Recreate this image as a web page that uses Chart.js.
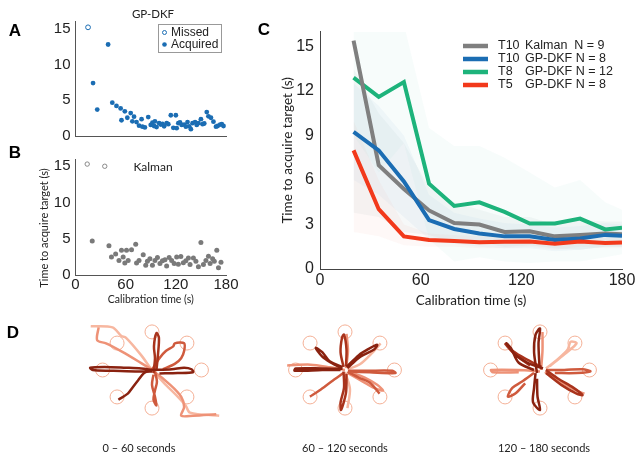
<!DOCTYPE html>
<html>
<head>
<meta charset="utf-8">
<script src="https://cdn.jsdelivr.net/npm/chart.js@4.4.1/dist/chart.umd.min.js"></script>
<style>
  body { margin: 0; background: #fff; width: 642px; height: 461px; position: relative; overflow: hidden; }
  canvas { position: absolute; }
  .t { position: absolute; transform: translate(-50%, -50%); white-space: nowrap; color: #222; font-family: Lato, sans-serif; }
  .pl { font: bold 17px "Liberation Sans", Arial, sans-serif; color: #000; }
</style>
</head>
<body>
<canvas id="chartA" width="240" height="150" style="left:0;top:0"></canvas>
<canvas id="chartB" width="240" height="164" style="left:0;top:145px"></canvas>
<canvas id="chartC" width="402" height="312" style="left:240px;top:0"></canvas>
<canvas id="chartD1" width="184" height="140" style="left:60px;top:300px"></canvas>
<canvas id="chartD2" width="184" height="140" style="left:253px;top:300px"></canvas>
<canvas id="chartD3" width="184" height="140" style="left:448px;top:300px"></canvas>

<div class="t pl" style="left:15px;top:31px">A</div>
<div class="t pl" style="left:15px;top:153px">B</div>
<div class="t pl" style="left:264px;top:30px">C</div>
<div class="t pl" style="left:13px;top:333px">D</div>
<div class="t" style="left:153px;top:13px;font-size:11.5px">GP-DKF</div>
<div class="t" style="left:153px;top:166px;font-size:12px">Kalman</div>
<div class="t" style="left:43px;top:228px;font-size:11px;transform:translate(-50%,-50%) rotate(-90deg)">Time to acquire target (s)</div>
<div class="t" style="left:139px;top:447px;font-size:11px">0 – 60 seconds</div>
<div class="t" style="left:345px;top:447px;font-size:11px">60 – 120 seconds</div>
<div class="t" style="left:544px;top:447px;font-size:11px">120 – 180 seconds</div>

<script>
// ---- panel A / B : single-trial acquisition times ----
const xTicksAB = [0, 60, 120, 180];
const yTicksAB = [0, 5, 10, 15];

const missedAx = [15];
const missedAy = [15.2];
const acqAx = [39, 21, 26, 44, 49, 54, 59, 66, 55, 62, 68, 70, 73, 76, 79, 80, 83, 87, 90, 92, 94, 95, 97, 100, 102, 104, 106, 109, 111, 114, 117, 120, 121, 123, 125, 127, 130, 132, 134, 136, 138, 140, 143, 145, 147, 150, 152, 154, 157, 159, 162, 165, 168, 170, 173, 175, 177];
const acqAy = [12.8, 7.4, 3.7, 4.66, 4.2, 3.85, 3.45, 3.2, 2.2, 2.55, 2.05, 2.7, 1.95, 1.45, 2.35, 1.3, 1.2, 2.65, 1.55, 1.85, 1.4, 2.05, 1.25, 1.8, 1.6, 1.7, 1.35, 1.8, 1.65, 2.9, 1.15, 2.9, 1.1, 1.8, 1.9, 1.55, 1.6, 1.3, 1.95, 1.35, 0.95, 1.8, 1.95, 1.55, 1.8, 2.35, 1.65, 1.75, 3.35, 2.75, 2.55, 2.0, 1.3, 1.4, 1.6, 1.65, 1.4];

const missedBx = [14, 35];
const missedBy = [15.3, 15.0];
const acqBx = [20, 40, 43, 48, 52, 55, 57, 59, 61, 63, 67, 72, 73, 76, 81, 84, 86, 89, 92, 95, 98, 101, 104, 107, 109, 112, 115, 118, 121, 123, 126, 129, 132, 135, 137, 141, 144, 147, 150, 153, 156, 159, 161, 164, 166, 169, 171, 174];
const acqBy = [4.7, 4.05, 2.5, 2.9, 2.0, 3.4, 2.5, 1.65, 3.4, 2.0, 3.5, 4.25, 1.65, 2.0, 2.8, 1.35, 1.9, 2.25, 1.35, 2.0, 2.4, 1.6, 1.95, 2.1, 1.25, 2.4, 2.0, 1.6, 2.5, 1.5, 2.55, 1.7, 1.95, 2.35, 1.45, 2.35, 1.9, 1.15, 4.5, 1.45, 2.0, 2.6, 1.6, 2.25, 1.9, 3.4, 1.0, 1.75];

// ---- panel C : mean time to target ----
const calTime = [20, 35, 50, 65, 80, 95, 110, 125, 140, 155, 170, 180];
const yTicksC = [0, 3, 6, 9, 12, 15];
const kalmanT10 = [15.4, 7.0, 5.4, 3.95, 3.1, 3.0, 2.5, 2.55, 2.2, 2.3, 2.4, 2.35];
const gpT10 = [9.25, 8.0, 5.9, 3.3, 2.7, 2.4, 2.2, 2.2, 1.95, 2.05, 2.3, 2.25];
const gpT8 = [12.9, 11.6, 12.6, 5.75, 4.25, 4.5, 3.85, 3.07, 3.07, 3.4, 2.67, 2.78];
const gpT5 = [8.0, 4.03, 2.2, 1.95, 1.88, 1.8, 1.83, 1.85, 1.7, 1.85, 1.75, 1.78];
// shaded spread
const kalmanHi = [13.5, 10.5, 8.5, 5.5, 4.5, 4.0, 3.5, 3.5, 3.0, 3.3, 3.2, 3.2];
const kalmanLo = [3.8, 3.5, 2.5, 2.3, 1.8, 1.8, 1.5, 1.6, 1.4, 1.3, 1.5, 1.5];
const gpT10Hi = [12.5, 11.0, 9.0, 5.0, 3.8, 3.4, 3.1, 3.0, 2.8, 2.9, 3.1, 3.0];
const gpT10Lo = [6.0, 5.0, 3.5, 2.0, 1.7, 1.5, 1.4, 1.4, 1.2, 1.3, 1.5, 1.5];
const gpT8Hi = [16.5, 16.5, 16.5, 9.5, 8.3, 8.3, 7.5, 6.5, 5.5, 6.0, 4.5, 4.0];
const gpT8Lo = [9.0, 6.5, 8.5, 2.0, 0.5, 0.8, 0.5, 0.4, 0.5, 0.5, 0.8, 1.0];
const gpT5Hi = [10.0, 6.0, 3.0, 2.4, 2.3, 2.2, 2.2, 2.2, 2.1, 2.2, 2.1, 2.1];
const gpT5Lo = [2.5, 2.2, 1.6, 1.5, 1.5, 1.4, 1.4, 1.5, 1.3, 1.5, 1.4, 1.4];
const legTag = ["T10", "T10", "T8", "T5"];
const legRest = ["Kalman  N = 9", "GP-DKF N = 8", "GP-DKF N = 12", "GP-DKF N = 8"];
const legColor = ["#7f7f7f", "#1b6db3", "#1db37b", "#f2391b"];

// ---- panel D : cursor trajectories (target radius = 1) ----
const targetsX = [1, 0.707, 0, -0.707, -1, -0.707, 0, 0.707];
const targetsY = [0, 0.707, 1, 0.707, 0, -0.707, -1, -0.707];
const shadeColors = ["#8a2210", "#a9331c", "#cf5a3d", "#ee9277", "#f7b7a0"];

const trajD1 = [
  [[-1.24, 1.15], [-0.80, 1.12], [-0.62, 0.89], [-0.53, 0.85], [-0.22, 0.39], [0, 0], [0.28, -0.39], [0.52, -0.70], [0.68, -0.93], [0.77, -1.12], [1.36, -1.20]],
  [[-1.08, 1.12], [-1.11, 0.78], [-0.93, 0.70], [-0.59, 0.47], [-0.28, 0.23], [0, 0], [0.37, -0.39], [0.59, -0.70], [0.65, -0.97], [0.59, -1.20], [0.83, -1.20], [1.30, -1.16]],
  [[0, 0], [-0.22, 0.04], [-0.53, 0.06], [-0.96, 0.08], [-1.25, 0.06], [-1.20, 0], [-0.83, -0.02], [-0.34, -0.04], [0, -0.04]],
  [[0, 0], [0.40, 0.02], [0.65, 0.06], [0.80, 0.02], [0.83, -0.06], [0.52, -0.08], [0.15, -0.09]],
  [[0, 0], [-0.16, -0.08], [-0.28, -0.27], [-0.40, -0.47], [-0.49, -0.62], [-0.68, -0.78]],
  [[0.03, -0.08], [0.06, 0.31], [0.04, 0.62], [0.09, 0.97], [0.14, 0.85], [0.12, 0.39], [0.09, 0]],
  [[0, 0], [0.15, 0.31], [0.28, 0.50], [0.43, 0.62], [0.46, 0.70], [0.65, 0.70], [0.65, 0.50], [0.59, 0.31], [0.46, 0.16], [0.22, 0.02]],
  [[0.06, -0.04], [0.10, -0.31], [0.06, -0.54], [0.03, -0.78], [0.09, -0.93], [0.06, -0.70], [0, -0.39], [0.03, -0.12]]
];
const shadeD1 = [4, 3, 0, 0, 0, 1, 2, 2];

const trajD2 = [
  [[0.05, 0.02], [0.30, 0.15], [0.55, 0.45], [0.72, 0.70]],
  [[0, -0.05], [0.10, -0.50], [0.05, -1.0]],
  [[-1.17, 0.12], [-0.70, 0.14], [-0.30, 0.07], [0, 0]],
  [[0.02, 0.05], [0.06, 0.50], [0.03, 0.95]],
  [[0.06, -0.08], [0.37, -0.31], [0.59, -0.47], [0.77, -0.54], [0.65, -0.39], [0.40, -0.20], [0.10, -0.05]],
  [[0.06, -0.02], [0.46, -0.02], [0.96, -0.02], [1.02, -0.08], [0.50, -0.06], [0.10, -0.04]],
  [[-0.03, -0.08], [-0.28, -0.31], [-0.52, -0.54], [-0.71, -0.70]],
  [[0.05, -0.05], [0.28, -0.20], [0.50, -0.33], [0.70, -0.62]],
  [[-0.03, 0.08], [-0.09, 0.47], [-0.06, 0.85], [-0.02, 0.93], [0.03, 0.54], [0.02, 0.10]],
  [[-0.03, -0.04], [-0.02, -0.47], [-0.09, -0.85], [-0.08, -1.05], [0.02, -0.60], [0.03, -0.10]],
  [[-0.06, 0.04], [-0.28, 0.19], [-0.46, 0.35], [-0.59, 0.58], [-0.46, 0.47], [-0.31, 0.23], [-0.05, 0.08]],
  [[0.03, 0.08], [0.28, 0.39], [0.46, 0.54], [0.65, 0.66], [0.59, 0.54], [0.31, 0.35], [0.05, 0.05]],
  [[-0.09, 0], [-0.46, 0], [-1.02, -0.02], [-1.0, 0.04], [-0.46, 0.04], [-0.05, 0.03]]
];
const shadeD2 = [4, 4, 3, 3, 3, 2, 2, 2, 1, 1, 0, 0, 0];

const trajD3 = [
  [[0.12, 0.04], [0.31, 0.23], [0.56, 0.54], [0.62, 0.74], [0.74, 0.70], [0.50, 0.42], [0.20, 0.10]],
  [[0, -0.04], [-0.43, 0], [-0.99, 0], [-0.95, -0.06], [-0.43, -0.06]],
  [[0.02, 0], [0.05, 0.50], [0.05, 1.0]],
  [[0.10, -0.05], [0.40, -0.30], [0.75, -0.55], [0.90, -0.62]],
  [[-0.12, -0.08], [-0.37, -0.31], [-0.56, -0.47], [-0.65, -0.70], [-0.50, -0.62], [-0.30, -0.35]],
  [[0.12, 0], [0.49, 0], [0.86, 0.02], [1.02, -0.04], [0.74, -0.08], [0.30, -0.08]],
  [[0.12, 0], [0.37, -0.23], [0.68, -0.47], [0.86, -0.66], [0.74, -0.62], [0.43, -0.39], [0.12, -0.08]],
  [[0.03, 0.08], [-0.30, 0.30], [-0.55, 0.50], [-0.70, 0.68], [-0.50, 0.40], [-0.20, 0.12]],
  [[0.06, 0.04], [-0.25, 0.19], [-0.49, 0.39], [-0.68, 0.70], [-0.59, 0.58], [-0.43, 0.19], [-0.12, 0]],
  [[-0.06, -0.08], [-0.12, 0.47], [-0.09, 0.93], [0, 1.09], [-0.03, 0.70], [-0.01, 0.08]],
  [[-0.09, -0.08], [-0.12, -0.47], [-0.14, -0.85], [0, -1.05], [-0.05, -0.70], [-0.06, -0.23]]
];
const shadeD3 = [4, 3, 3, 3, 2, 2, 1, 1, 0, 0, 0];

Chart.defaults.animation = false;
Chart.defaults.font.family = "'Liberation Sans', Arial, sans-serif";
Chart.defaults.color = "#222";

const pts = (xs, ys) => xs.map((x, i) => ({ x: x, y: ys[i] }));
const fixedTicks = list => axis => { axis.ticks = list.map(v => ({ value: v })); };

// legend inside panel A
const legendA = {
  id: "legendA",
  afterDraw(chart) {
    const ctx = chart.ctx;
    ctx.save();
    ctx.strokeStyle = "#999";
    ctx.lineWidth = 1;
    ctx.strokeRect(158.5, 24.5, 63, 28);
    ctx.font = "12px 'Liberation Sans', Arial";
    ctx.fillStyle = "#222";
    ctx.textBaseline = "middle";
    ctx.fillText("Missed", 171, 32.5);
    ctx.fillText("Acquired", 171, 44.5);
    ctx.strokeStyle = "#1b6db3";
    ctx.beginPath(); ctx.arc(164.5, 32.5, 2, 0, Math.PI * 2); ctx.stroke();
    ctx.fillStyle = "#1b6db3";
    ctx.beginPath(); ctx.arc(164.5, 44.5, 2.3, 0, Math.PI * 2); ctx.fill();
    ctx.restore();
  }
};

// legend inside panel C
const legendC = {
  id: "legendC",
  afterDraw(chart) {
    const ctx = chart.ctx;
    const rows = [46, 59, 72, 85];
    ctx.save();
    ctx.font = "12.5px 'Liberation Sans', Arial";
    ctx.textBaseline = "middle";
    rows.forEach((y, i) => {
      ctx.strokeStyle = legColor[i];
      ctx.lineWidth = 4.5;
      ctx.beginPath(); ctx.moveTo(223, y); ctx.lineTo(248, y); ctx.stroke();
      ctx.fillStyle = "#222";
      ctx.fillText(legTag[i], 258, y);
      ctx.fillText(legRest[i], 285, y);
    });
    ctx.restore();
  }
};

function abAxes(showX, xH) {
  return {
    x: {
      type: "linear", min: 0, max: 180,
      afterBuildTicks: fixedTicks(xTicksAB),
      afterFit: s => { s.height = xH; },
      grid: { display: false, drawTicks: false },
      border: { color: "#555" },
      ticks: { display: showX, font: { size: 15 }, padding: 1, maxRotation: 0 },
      title: { display: showX, text: "Calibration time (s)", font: { family: "Lato", size: 10.5 }, padding: { top: 0, bottom: 3 } }
    },
    y: {
      min: 0, max: 16,
      afterBuildTicks: fixedTicks(yTicksAB),
      afterFit: s => { s.width = 75.5; },
      grid: { display: false, drawTicks: false },
      border: { color: "#555" },
      ticks: { font: { size: 15 }, padding: 5 }
    }
  };
}

new Chart(document.getElementById("chartA"), {
  type: "scatter",
  data: {
    datasets: [
      { data: pts(missedAx, missedAy), pointRadius: 2.4, pointBorderWidth: 1, borderColor: "#1b6db3", backgroundColor: "rgba(0,0,0,0)" },
      { data: pts(acqAx, acqAy), pointRadius: 2.4, borderWidth: 0, backgroundColor: "#1b6db3" }
    ]
  },
  options: {
    responsive: false,
    layout: { padding: { left: 0, right: 14, top: 21.6, bottom: 0 } },
    scales: abAxes(false, 9.5),
    plugins: { legend: { display: false }, tooltip: { enabled: false } }
  },
  plugins: [legendA]
});

new Chart(document.getElementById("chartB"), {
  type: "scatter",
  data: {
    datasets: [
      { data: pts(missedBx, missedBy), pointRadius: 2.2, pointBorderWidth: 1, borderColor: "#888", backgroundColor: "rgba(0,0,0,0)" },
      { data: pts(acqBx, acqBy), pointRadius: 2.5, borderWidth: 0, backgroundColor: "#7a7a7a" }
    ]
  },
  options: {
    responsive: false,
    layout: { padding: { left: 0, right: 14, top: 11.6, bottom: 0 } },
    scales: abAxes(true, 34),
    plugins: { legend: { display: false }, tooltip: { enabled: false } }
  }
});

function band(hi, lo, color) {
  return [
    { data: pts(calTime, hi), borderWidth: 0, pointRadius: 0, fill: "+1", backgroundColor: color, order: 10 },
    { data: pts(calTime, lo), borderWidth: 0, pointRadius: 0, fill: false, order: 10 }
  ];
}
function meanLine(ys, color, ord) {
  return { data: pts(calTime, ys), borderColor: color, borderWidth: 4, pointRadius: 0, fill: false, order: ord, borderJoinStyle: "miter" };
}

new Chart(document.getElementById("chartC"), {
  type: "line",
  data: {
    datasets: [
      ...band(gpT8Hi, gpT8Lo, "rgba(120,200,190,0.06)"),
      ...band(kalmanHi, kalmanLo, "rgba(110,130,140,0.06)"),
      ...band(gpT10Hi, gpT10Lo, "rgba(80,140,190,0.05)"),
      ...band(gpT5Hi, gpT5Lo, "rgba(242,120,100,0.05)"),
      meanLine(gpT5, legColor[3], 0),
      meanLine(gpT10, legColor[1], 1),
      meanLine(kalmanT10, legColor[0], 2),
      meanLine(gpT8, legColor[2], 3)
    ]
  },
  options: {
    responsive: false,
    layout: { padding: { left: 36, right: 20, top: 31.7, bottom: 0 } },
    scales: {
      x: {
        type: "linear", min: 0, max: 180,
        afterBuildTicks: fixedTicks(xTicksAB),
        afterFit: s => { s.height = 43; },
        grid: { display: false, drawTicks: false },
        border: { color: "#444" },
        ticks: { font: { size: 16 }, padding: 2, maxRotation: 0 },
        title: { display: true, text: "Calibration time (s)", font: { family: "Lato", size: 13.5 }, padding: { top: 0, bottom: 3 } }
      },
      y: {
        min: 0, max: 16,
        afterBuildTicks: fixedTicks(yTicksC),
        afterFit: s => { s.width = 44; },
        grid: { display: false, drawTicks: false },
        border: { color: "#444" },
        ticks: { font: { size: 16 }, padding: 6 },
        title: { display: true, text: "Time to acquire target (s)", font: { family: "Lato", size: 13.5 }, padding: { top: 4, bottom: 0 } }
      }
    },
    plugins: { legend: { display: false }, tooltip: { enabled: false } }
  },
  plugins: [legendC]
});

function makeTraj(id, traces, shades) {
  const sets = traces.map((tr, i) => ({
    data: tr.map(p => ({ x: p[0], y: p[1] })),
    showLine: true, pointRadius: 0, borderWidth: 2.5, tension: 0.3,
    borderColor: shadeColors[shades[i]], clip: false,
    order: shades[i]
  }));
  sets.push({
    data: pts(targetsX, targetsY), pointRadius: 7, pointBorderWidth: 1,
    borderColor: "#f4b096", backgroundColor: "rgba(0,0,0,0)", order: 20
  });
  new Chart(document.getElementById(id), {
    type: "scatter",
    data: { datasets: sets },
    options: {
      responsive: false,
      layout: { padding: 0 },
      scales: {
        x: { display: false, min: -1.7, max: 1.7 },
        y: { display: false, min: -1.628, max: 1.628 }
      },
      plugins: { legend: { display: false }, tooltip: { enabled: false } }
    }
  });
}

makeTraj("chartD1", trajD1, shadeD1);
makeTraj("chartD2", trajD2, shadeD2);
makeTraj("chartD3", trajD3, shadeD3);
</script>
</body>
</html>
